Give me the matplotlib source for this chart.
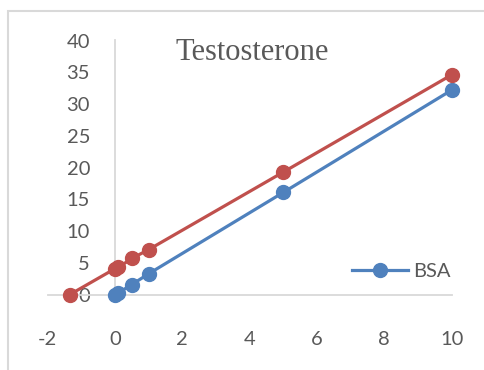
import matplotlib
matplotlib.use("Agg")
import matplotlib.pyplot as plt
from matplotlib.patches import Rectangle

# binding curves, concentration vs signal
bsa_x = [0, 0.1, 0.5, 1, 5, 10]
bsa_y = [0, 0.3, 1.6, 3.3, 16.1, 32.2]
second_x = [-1.35, 0, 0.1, 0.5, 1, 5, 10]
second_y = [0, 4.1, 4.3, 5.7, 7.1, 19.3, 34.6]

x_ticks = [-2, 0, 2, 4, 6, 8, 10]
y_ticks = [0, 5, 10, 15, 20, 25, 30, 35, 40]

BLUE = "#4F81BD"
RED = "#C0504D"
TEXT = "#595959"
GRID = "#D9D9D9"

plt.rcParams['font.family'] = ['Lato', 'DejaVu Sans']
plt.rcParams['axes.unicode_minus'] = False

fig = plt.figure(figsize=(4.84, 3.70), dpi=100)
W, H = 484, 370

# chart area outline
fig.patches.append(Rectangle((8 / W, -0.1), 1.2, 1 - 11 / H + 0.1,
                             transform=fig.transFigure, fill=False,
                             edgecolor=GRID, linewidth=1.5))

ax = fig.add_axes([47.7 / W, 1 - 294.7 / H, 404 / W, 254.2 / H])
ax.set_xlim(-2, 10)
ax.set_ylim(0, 40)

ax.plot(bsa_x, bsa_y, color=BLUE, lw=2.3, marker='o', ms=10,
        label='BSA', clip_on=False, zorder=3)
ax.plot(second_x, second_y, color=RED, lw=2.3, marker='o', ms=10,
        label='_nolegend_', clip_on=False, zorder=3)

ax.spines['top'].set_visible(False)
ax.spines['right'].set_visible(False)
ax.spines['left'].set_position(('data', 0))
ax.spines['left'].set_color(GRID)
ax.spines['bottom'].set_color(GRID)
ax.spines['left'].set_linewidth(1.3)
ax.spines['bottom'].set_linewidth(1.3)

ax.set_xticks(x_ticks)
ax.set_yticks(y_ticks)
ax.tick_params(axis='x', length=0, pad=26, labelsize=14.5, labelcolor=TEXT)
ax.tick_params(axis='y', length=0, pad=18, labelsize=14.5, labelcolor=TEXT)

ax.text(252 / W, 1 - 52 / H, 'Testosterone', transform=fig.transFigure,
        ha='center', va='center', fontsize=22, color=TEXT,
        family='Liberation Serif')

ax.legend(loc='center left', bbox_to_anchor=(342 / W, 1 - 271 / H),
          bbox_transform=fig.transFigure, frameon=False, fontsize=14.5,
          handlelength=2.8, handletextpad=0.25, borderpad=0,
          labelcolor=TEXT)

fig.savefig('out.png', dpi=100)
